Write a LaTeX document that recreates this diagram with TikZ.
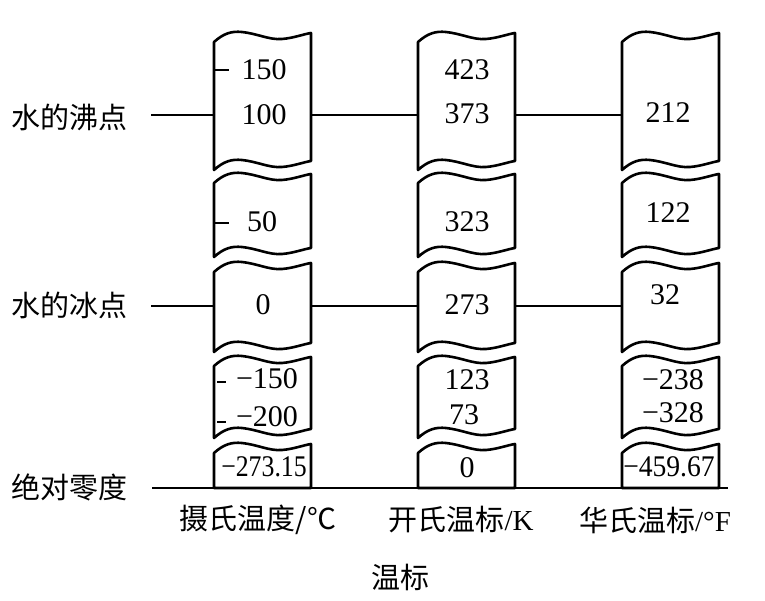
\documentclass[tikz,border=0pt]{standalone}
\usepackage{fontspec}
\setmainfont{Liberation Serif}
\newfontfamily\cjk{Noto Sans CJK SC}
\newcommand\wavepiece[3]{%
  \draw[piece] (#1,#2+10) .. controls (#1+10,#2+1) and (#1+18,#2-1) .. (#1+28,#2)
    .. controls (#1+45,#2+2) and (#1+55,#2+8) .. (#1+68,#2+7)
    .. controls (#1+80,#2+6) and (#1+90,#2+2) .. (#1+97,#2+1)
    -- (#1+97,#3+1)
    .. controls (#1+90,#3+2) and (#1+80,#3+6) .. (#1+68,#3+7)
    .. controls (#1+55,#3+8) and (#1+45,#3+2) .. (#1+28,#3)
    .. controls (#1+18,#3-1) and (#1+10,#3+1) .. (#1,#3+10) -- cycle;}
\newcommand\lastpiece[2]{%
  \draw[piece] (#1,#2+10) .. controls (#1+10,#2+1) and (#1+18,#2-1) .. (#1+28,#2)
    .. controls (#1+45,#2+2) and (#1+55,#2+8) .. (#1+68,#2+7)
    .. controls (#1+80,#2+6) and (#1+90,#2+2) .. (#1+97,#2+1)
    -- (#1+97,488) -- (#1,488) -- cycle;}
\begin{document}
\begin{tikzpicture}[x=1pt,y=-1pt,
  piece/.style={line width=2.6pt,line join=round,fill=white},
  conn/.style={line width=1.6pt},
  num/.style={font=\fontsize{30}{30}\selectfont,inner sep=0pt},
  lbl/.style={font=\fontsize{29}{29}\selectfont\cjk,inner sep=0pt},
  tick/.style={line width=1.4pt}]
\useasboundingbox (0,0) rectangle (765,601);
% columns
\foreach \x in {214,418,622}{
  \wavepiece{\x}{32}{160}
  \wavepiece{\x}{173}{247}
  \wavepiece{\x}{262}{342}
  \wavepiece{\x}{356}{428}
  \lastpiece{\x}{443}
}
% coordinates for connectors
\coordinate (b0) at (151,115); \coordinate (b1) at (214,115);
\coordinate (b2) at (311,115); \coordinate (b3) at (418,115);
\coordinate (b4) at (515,115); \coordinate (b5) at (622,115);
\coordinate (f0) at (151,306); \coordinate (f1) at (214,306);
\coordinate (f2) at (311,306); \coordinate (f3) at (418,306);
\coordinate (f4) at (515,306); \coordinate (f5) at (622,306);
\coordinate (z0) at (152,488); \coordinate (z1) at (728,488);
\draw[conn] (b0) -- (b1) (b2) -- (b3) (b4) -- (b5);
\draw[conn] (f0) -- (f1) (f2) -- (f3) (f4) -- (f5);
\draw[conn] (z0) -- (z1);
% ticks (Celsius)
\draw[tick] (214,70) -- (229,70);
\draw[tick] (214,223) -- (229,223);
\draw[tick] (217,382) -- (226,382);
\draw[tick] (217,422) -- (226,422);
% Celsius numbers
\node[num] (c150) at (264,70) {150};
\node[num] (c100) at (264,115) {100};
\node[num] (c50) at (262,222) {50};
\node[num] (c0) at (263,305) {0};
\node[num] (cm150) at (267,379) {−150};
\node[num] (cm200) at (267,417) {−200};
\node[num] (cabs) at (264,467) {\scalebox{0.86}[1]{−273.15}};
% Kelvin numbers
\node[num] (k423) at (467,70) {423};
\node[num] (k373) at (467,114) {373};
\node[num] (k323) at (467,222) {323};
\node[num] (k273) at (467,305) {273};
\node[num] (k123) at (467,380) {123};
\node[num] (k73) at (464,415) {73};
\node[num] (k0) at (467,468) {0};
% Fahrenheit numbers
\node[num] (f212) at (668,113) {212};
\node[num] (f122) at (668,213) {122};
\node[num] (f32) at (665,295) {32};
\node[num] (fm238) at (673,380) {−238};
\node[num] (fm328) at (673,413) {−328};
\node[num] (fabs) at (669,467) {\scalebox{0.92}[1]{−459.67}};
% row labels
\node[lbl,anchor=west] (boil) at (11,117) {水的沸点};
\node[lbl,anchor=west] (freeze) at (11,305) {水的冰点};
\node[lbl,anchor=west] (zero) at (11,487) {绝对零度};
% column labels
\node[lbl] (lc) at (258,520) {摄氏温度/℃};
\node[lbl] (lk) at (461,520) {开氏温标{\rmfamily/K}};
\node[lbl] (lf) at (655,520) {华氏温标{\rmfamily/°F}};
\node[lbl] (title) at (400,577) {温标};
\end{tikzpicture}
\end{document}
